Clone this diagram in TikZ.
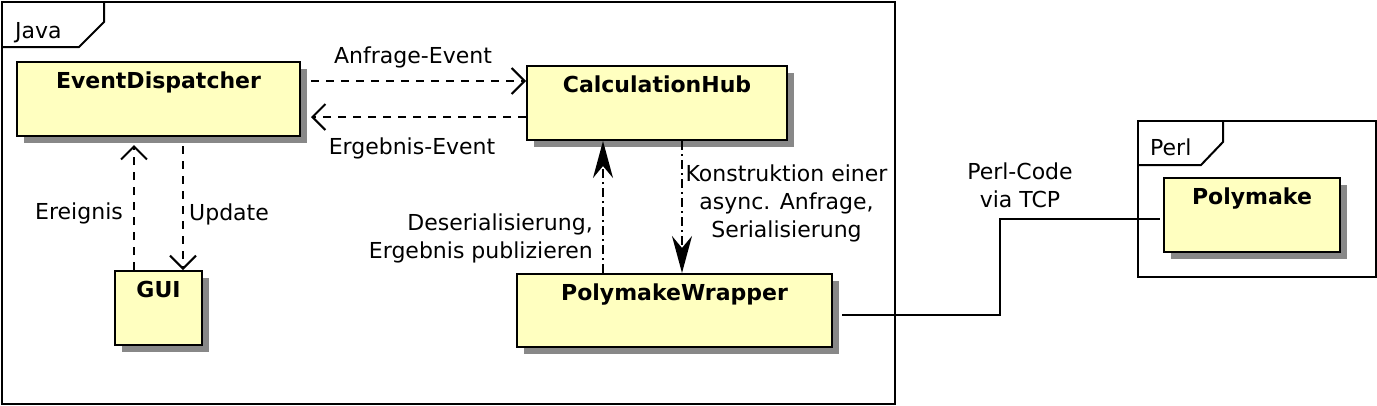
\documentclass[tikz,border=0pt]{standalone}
\usepackage{fontspec}
\setmainfont{DejaVu Sans}
\usetikzlibrary{arrows.meta,shadows}
\definecolor{boxyellow}{RGB}{255,255,192}
\definecolor{shadowgray}{RGB}{136,136,136}
\tikzset{
  txt/.style={font=\fontsize{22}{28}\selectfont, inner sep=0pt},
  btxt/.style={font=\fontsize{22}{28}\selectfont\bfseries, inner sep=0pt, anchor=base},
  umlbox/.style={draw, line width=2pt, fill=boxyellow, anchor=north west, inner sep=0pt,
    general shadow={fill=shadowgray, shadow xshift=7pt, shadow yshift=-7pt}},
  frame/.style={draw, line width=2pt, anchor=north west, inner sep=0pt},
  dep/.style={line width=2pt, dash pattern=on 8pt off 7pt,
    -{Straight Barb[length=13pt,width=26pt,line width=2pt]}},
  flow/.style={line width=2pt, dash pattern=on 9pt off 4pt on 2pt off 4pt,
    -{Stealth[length=37pt,width=20pt,inset=12pt]}},
  wire/.style={line width=2pt},
}
\begin{document}
\begin{tikzpicture}[x=1pt,y=-1pt]
\useasboundingbox (0,0) rectangle (1377,405);
% frames
\node[frame, minimum width=893pt, minimum height=402pt] (java) at (1,1) {};
\draw[line width=2pt] (1,47) -- (79,47) -- (104,22) -- (104,1);
\node[txt, anchor=base west] (javalbl) at (15,38) {Java};
\node[frame, minimum width=238pt, minimum height=156pt] (perl) at (1137,120) {};
\draw[line width=2pt] (1137,165) -- (1201,165) -- (1223,142) -- (1223,120);
\node[txt, anchor=base west] (perllbl) at (1150,155) {Perl};
% boxes
\node[umlbox, minimum width=283pt, minimum height=74pt] (ed) at (16,61) {};
\node[btxt] (edt) at ([yshift=-27pt]ed.north) {EventDispatcher};
\node[umlbox, minimum width=260pt, minimum height=74pt] (ch) at (526,65) {};
\node[btxt] (cht) at ([yshift=-27pt]ch.north) {CalculationHub};
\node[umlbox, minimum width=87pt, minimum height=74pt] (gui) at (114,270) {};
\node[btxt] (guit) at ([yshift=-27pt]gui.north) {GUI};
\node[umlbox, minimum width=315pt, minimum height=73pt] (pw) at (516,273) {};
\node[btxt] (pwt) at ([yshift=-27pt]pw.north) {PolymakeWrapper};
\node[umlbox, minimum width=176pt, minimum height=74pt] (pm) at (1163,177) {};
\node[btxt] (pmt) at ([yshift=-27pt]pm.north) {Polymake};
% connectors
\draw[dep] ([xshift=10pt,yshift=18pt]ed.east) -- ([yshift=18pt]ed.east -| ch.west);
\draw[dep] ([yshift=-18pt]ed.east -| ch.west) -- ([xshift=10pt,yshift=-18pt]ed.east);
\draw[dep] ([xshift=-24.5pt]gui.north) -- ([xshift=-24.5pt,yshift=-8pt]ed.south);
\draw[dep] ([xshift=24.5pt,yshift=-9pt]ed.south) -- ([xshift=24.5pt]gui.north);
\draw[flow] ([xshift=-71.5pt]pw.north) -- ([xshift=-71.5pt]pw.north |- ch.south);
\draw[flow] ([xshift=25pt]ch.south) -- ([xshift=25pt]ch.south |- pw.north);
\draw[wire] ([xshift=9pt,yshift=-4.5pt]pw.east) -| ([xshift=-163pt,yshift=-4pt]pm.west) -- ([xshift=-3pt,yshift=-4pt]pm.west);
% labels
\node[txt, anchor=base] (l1) at (413,63) {Anfrage-Event};
\node[txt, anchor=base] (l2) at (412,154) {Ergebnis-Event};
\node[txt, anchor=base] (l3) at (79,219) {Ereignis};
\node[txt, anchor=base west] (l4) at (189,220) {Update};
\node[txt, anchor=base east, align=right] (l5) at (593,258) {Deserialisierung,\\Ergebnis publizieren};
\node[txt, anchor=base, align=center] (l6) at (786.5,237) {Konstruktion einer\\async. Anfrage,\\Serialisierung};
\node[txt, anchor=base, align=center] (l7) at (1020,207) {Perl-Code\\via TCP};
\end{tikzpicture}
\end{document}
